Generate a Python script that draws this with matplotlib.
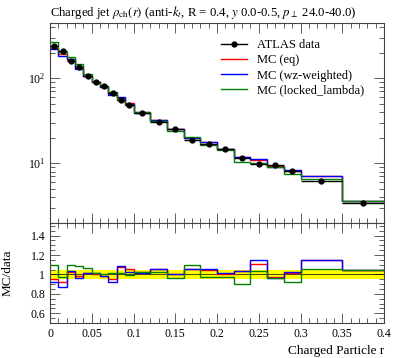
import numpy as np
import matplotlib
matplotlib.use("Agg")
import matplotlib.pyplot as plt
from matplotlib.lines import Line2D
from matplotlib.ticker import MultipleLocator, FixedLocator, LogLocator, NullFormatter

plt.rcParams['font.family'] = ['Liberation Serif', 'DejaVu Serif']
plt.rcParams['mathtext.fontset'] = 'stix'

# ---- data ----
edges = [0, 0.01, 0.02, 0.03, 0.04, 0.05, 0.06, 0.07, 0.08, 0.09, 0.10,
         0.12, 0.14, 0.16, 0.18, 0.20, 0.22, 0.24, 0.26, 0.28, 0.30, 0.35, 0.40]
data = [242, 211, 161, 135, 106, 90, 81, 68, 55, 48.9, 38.7, 30.3, 25.1,
        18.7, 16.9, 14.6, 11.5, 9.75, 9.55, 8.05, 6.24, 3.41]
data_relerr = [0.05, 0.05, 0.045, 0.045, 0.045, 0.045, 0.045, 0.045, 0.045, 0.045, 0.045,
               0.045, 0.045, 0.045, 0.045, 0.045, 0.045, 0.045, 0.045, 0.045, 0.045, 0.045]
ratio_eq = [0.95, 0.925, 1.03, 0.98, 1.01, 1.0, 0.98, 0.95, 1.08, 1.055, 1.03,
            1.055, 1.0, 1.055, 1.05, 1.0, 1.037, 1.11, 0.975, 1.01, 1.15, 1.05]
ratio_wz = [0.925, 0.873, 1.037, 0.96, 1.01, 1.01, 0.98, 0.925, 1.09, 1.03, 1.02,
            1.055, 1.0, 1.06, 1.06, 1.017, 1.037, 1.147, 0.96, 1.027, 1.147, 1.05]
ratio_ll = [1.10, 0.975, 1.10, 1.085, 1.07, 1.01, 1.0, 1.01, 1.01, 0.99, 1.03,
            1.03, 0.96, 1.10, 0.975, 0.97, 0.90, 1.034, 0.96, 0.925, 1.055, 1.045]
labels = ["ATLAS data", "MC (eq)", "MC (wz-weighted)", "MC (locked_lambda)"]
colors = ["black", "#ff0000", "#0000ff", "#008000"]

edges = np.array(edges)
data = np.array(data)
relerr = np.array(data_relerr)
centers = 0.5 * (edges[1:] + edges[:-1])
halfw = 0.5 * (edges[1:] - edges[:-1])

W, H = 397, 358
fig = plt.figure(figsize=(W / 100, H / 100), dpi=100)
L, R = 50, 384
ax = fig.add_axes([L / W, 1 - 223 / H, (R - L) / W, 200 / H])
rx = fig.add_axes([L / W, 1 - 323 / H, (R - L) / W, 100 / H], sharex=ax)

framecol = "#444444"
for a in (ax, rx):
    for s in a.spines.values():
        s.set_linewidth(0.8)
        s.set_color(framecol)
    a.tick_params(which='both', direction='in', top=True, right=True,
                  color=framecol, labelsize=8.5, width=0.6)
    a.tick_params(which='major', length=7)
    a.tick_params(which='minor', length=3.5)

# main panel
handles = []
ax.errorbar(centers, data, xerr=halfw, yerr=data * relerr, fmt='o', color='black',
            ms=3.5, lw=1.0, capsize=0, zorder=3)
handles.append(Line2D([], [], color='black', marker='o', ms=3.5, lw=1.0))
for r, c in zip([ratio_eq, ratio_wz, ratio_ll], colors[1:]):
    ax.stairs(data * np.array(r), edges, color=c, lw=1.0, baseline=None, zorder=2)
    handles.append(Line2D([], [], color=c, lw=1.0))
ax.set_yscale('log')
ax.set_xlim(0, 0.4)
ax.set_ylim(1.985, 447)
ax.xaxis.set_major_locator(MultipleLocator(0.05))
ax.xaxis.set_minor_locator(MultipleLocator(0.01))
ax.yaxis.set_major_locator(LogLocator(base=10, numticks=10))
ax.yaxis.set_minor_locator(LogLocator(base=10, subs=np.arange(2, 10), numticks=20))
ax.yaxis.set_minor_formatter(NullFormatter())
plt.setp(ax.get_xticklabels(), visible=False)

ax.legend(handles, labels, loc='upper right',
          bbox_to_anchor=(0.975, 0.975), frameon=False, fontsize=9,
          handlelength=2.1, labelspacing=0.25, handletextpad=0.8)

ax.text(0, 1.035, r"Charged jet $\rho_{\mathrm{ch}}(r)$ (anti-$k_t$, R = 0.4, $y$ 0.0-0.5, $p_\perp$ 24.0-40.0)",
        transform=ax.transAxes, fontsize=9.2, ha='left', va='baseline')

# ratio panel
lo = np.concatenate([1 - relerr, [1 - relerr[-1]]])
hi = np.concatenate([1 + relerr, [1 + relerr[-1]]])
rx.fill_between(edges, lo, hi, step='post', color='#ffff00', lw=0, zorder=1)
rx.stairs(np.ones(len(data)), edges, color='black', lw=0.5, baseline=None, zorder=2)
for r, c in zip([ratio_eq, ratio_wz, ratio_ll], colors[1:]):
    rx.stairs(np.array(r), edges, color=c, lw=1.0, baseline=None, zorder=3)
rx.set_ylim(0.5, 1.53)
rx.yaxis.set_major_locator(FixedLocator([0.6, 0.8, 1.0, 1.2, 1.4]))
rx.yaxis.set_minor_locator(MultipleLocator(0.05))
rx.set_yticklabels(["0.6", "0.8", "1", "1.2", "1.4"])
rx.set_xticks([0, 0.05, 0.1, 0.15, 0.2, 0.25, 0.3, 0.35, 0.4])
rx.set_xticklabels(["0", "0.05", "0.1", "0.15", "0.2", "0.25", "0.3", "0.35", "0.4"])
rx.set_ylabel("MC/data", fontsize=9.5)
rx.yaxis.set_label_coords(-0.11, 0.5)
rx.set_xlabel("Charged Particle r", fontsize=9.5, loc='right')

fig.savefig("out.png", dpi=100)
